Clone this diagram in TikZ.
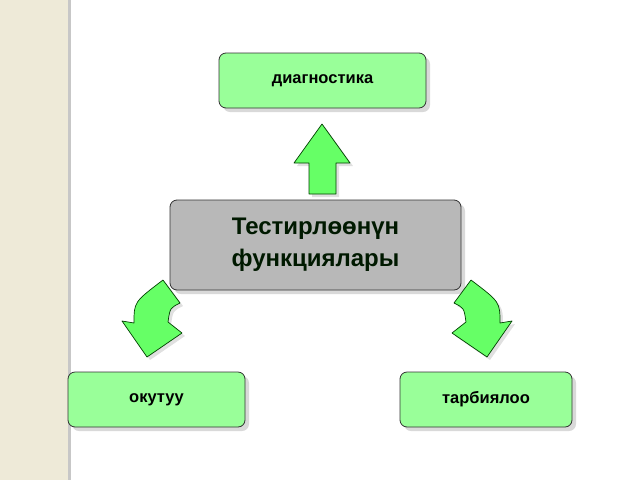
\documentclass[tikz,border=0pt]{standalone}
\usepackage{fontspec}
\setmainfont{Liberation Sans}
\definecolor{strip}{HTML}{EEEAD8}
\definecolor{boxg}{HTML}{99FF99}
\definecolor{arrg}{HTML}{66FF66}
\begin{document}
\begin{tikzpicture}[x=1pt,y=-1pt,
  box/.style={draw=black!80,line width=0.8pt,rounded corners=7pt,fill=boxg,font=\bfseries\fontsize{16.5}{19}\selectfont},
  shad/.style={fill=black!15,rounded corners=7pt,draw=none},
  arr/.style={draw=black!75!green,line width=0.7pt,fill=arrg,line join=round},
  ashad/.style={fill=black!12,draw=none}]
\useasboundingbox (0,0) rectangle (640,480);
\fill[strip] (0,0) rectangle (68,480);
\fill[black!22] (68,0) rectangle (71,480);
% shadows
\fill[shad] (223,57) rectangle (430,112);
\fill[shad] (174,204) rectangle (465,294);
\fill[shad] (72,376) rectangle (249,431);
\fill[shad] (404,376) rectangle (576,431);
% boxes
\node[box,minimum width=207pt,minimum height=55pt] (d) at (322.5,80.5) {диагностика};
\node[box,fill=black!28,minimum width=291pt,minimum height=90pt,align=center,font=\bfseries\fontsize{24}{32}\selectfont,text=green!10!black] (c) at (315.5,245) {Тестирлөөнүн\\функциялары};
\node[box,minimum width=177pt,minimum height=55pt] (o) at (156.5,399.5) {окутуу};
\node[box,minimum width=172pt,minimum height=55pt] (t) at (486,399.5) {тарбиялоо};
% up arrow
\fill[ashad] (325,127) -- (353,166) -- (339,166) -- (339,197) -- (312,197) -- (312,166) -- (297,166) -- cycle;
\draw[arr] (322,124) -- (350,163) -- (336,163) -- (336,194) -- (309,194) -- (309,163) -- (294,163) -- cycle;
% left arrow
\fill[ashad,shift={(3,3)}] (163,280) -- (180,303) .. controls (170,308) .. (168,322) -- (182,333) -- (147,357) -- (122,321) -- (134,323) .. controls (134,302) .. (163,280);
\draw[arr] (163,280) -- (180,303) .. controls (170,308) .. (168,322) -- (182,333) -- (147,357) -- (122,321) -- (134,323) .. controls (134,302) .. (163,280);
% right arrow
\fill[ashad,shift={(3,3)}] (471,280) -- (454,303) .. controls (464,308) .. (466,322) -- (452,333) -- (487,357) -- (512,321) -- (500,323) .. controls (500,302) .. (471,280);
\draw[arr] (471,280) -- (454,303) .. controls (464,308) .. (466,322) -- (452,333) -- (487,357) -- (512,321) -- (500,323) .. controls (500,302) .. (471,280);
\end{tikzpicture}
\end{document}
